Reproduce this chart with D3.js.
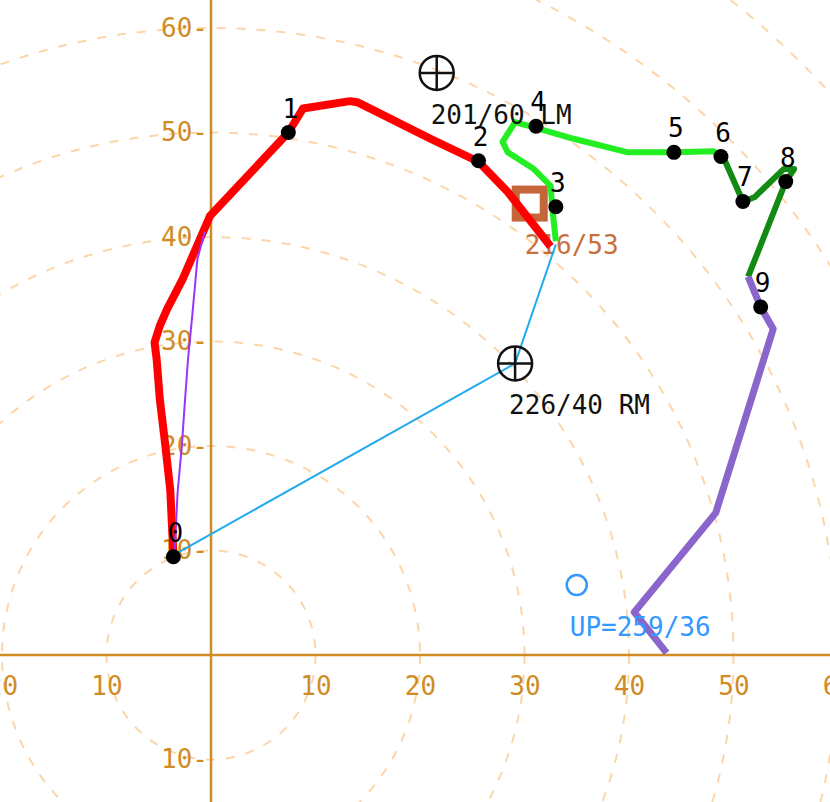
<!DOCTYPE html>
<html><head><meta charset="utf-8">
<script src="https://cdn.jsdelivr.net/npm/d3@7"></script>
<style>
html,body{margin:0;padding:0;background:#fff;}
svg{display:block;}
text{font-family:"DejaVu Sans Mono",monospace;font-size:26px;}
</style></head><body>
<svg id="c" width="830" height="802"></svg>
<script>
// ---- data (u, v components in knots) ----
const xTicks = [-20, -10, 10, 20, 30, 40, 50, 60];
const yTicks = [-10, 10, 20, 30, 40, 50, 60];
const ringRadii = [10, 20, 30, 40, 50, 60, 70, 80, 90];

const redSeg = [[-3.6,9.6],[-3.7,11.7],[-3.9,15.8],[-4.4,20.3],[-4.9,24.5],[-5.2,28.3],[-5.4,29.9],[-4.9,31.5],[-4.2,33.1],[-2.7,36.0],[-0.1,42.0],[7.4,50.0],[8.8,52.3],[13.3,53.0],[14.0,52.9],[21.0,49.4],[25.6,47.2],[28.4,44.3],[32.5,39.1]];
const greenSeg = [[33.0,39.6],[32.7,42.4],[32.5,44.9],[30.9,46.5],[28.4,48.1],[27.9,49.1],[29.1,51.0],[30.9,50.5],[34.7,49.4],[39.9,48.1],[44.3,48.1],[48.1,48.2],[49.0,47.7]];
const darkGreenSeg = [[49.0,47.7],[50.9,43.4],[52.0,43.8],[54.8,46.5],[55.8,46.5],[55.0,45.3],[51.4,36.2]];
const purpleSeg = [[51.4,36.2],[52.6,33.3],[53.8,31.2],[48.3,13.6],[40.5,4.1],[43.6,0.2]];
const thinPurpleSeg = [[-3.5,9.4],[-3.2,15.5],[-2.8,19.9],[-2.5,24.2],[-2.2,28.3],[-1.8,32.4],[-1.3,37.9],[-0.6,40.5]];
const blueSeg = [[-3.5,9.6],[29.1,27.9],[33.0,39.3]];

const heightLabels = ["0","1","2","3","4","5","6","7","8","9"];
const heightDots = [[-3.6,9.4],[7.4,50.0],[25.6,47.3],[33.0,42.9],[31.1,50.6],[44.3,48.1],[48.8,47.7],[50.9,43.4],[55.0,45.3],[52.6,33.3]];

const leftMover = {uv:[21.6,55.7], text:"201/60 LM"};
const rightMover = {uv:[29.1,27.9], text:"226/40 RM"};
const meanWind = {uv:[30.5,43.2], text:"216/53"};
const upshear = {uv:[35.0,6.7], text:"UP=259/36"};

// ---- scales ----
const W = 830, H = 802;
const k = 10.45;
const x = d3.scaleLinear().domain([-20, 60]).range([211 - 20*k, 211 + 60*k]);
const y = d3.scaleLinear().domain([0, 60]).range([655, 655 - 60*k]);

const svg = d3.select("#c");
const axisCol = "#d08c24";

// range rings
svg.append("g").selectAll("circle").data(ringRadii).join("circle")
  .attr("cx", x(0)).attr("cy", y(0))
  .attr("r", d => x(d) - x(0))
  .attr("fill", "none").attr("stroke", "#fcd6aa")
  .attr("stroke-width", 2).attr("stroke-dasharray", "9 11");

// axes lines
svg.append("line").attr("x1", 0).attr("x2", W).attr("y1", y(0)).attr("y2", y(0))
  .attr("stroke", axisCol).attr("stroke-width", 2.5);
svg.append("line").attr("x1", x(0)).attr("x2", x(0)).attr("y1", 0).attr("y2", H)
  .attr("stroke", axisCol).attr("stroke-width", 2.5);

// tick labels via d3 axes
const gx = svg.append("g").attr("transform", `translate(0,${y(0)})`)
  .call(d3.axisBottom(x).tickValues(xTicks).tickFormat(d => Math.abs(d)).tickSize(0).tickPadding(22));
gx.select(".domain").remove();
gx.selectAll("text").attr("fill", axisCol).style("font-size","26px").style("font-family",'"DejaVu Sans Mono",monospace');

const gy = svg.append("g").attr("transform", `translate(${x(0) - 3},0)`)
  .call(d3.axisLeft(y).tickValues(yTicks).tickFormat(d => Math.abs(d) + "-").tickSize(0).tickPadding(0));
gy.select(".domain").remove();
gy.selectAll("text").attr("fill", axisCol).style("font-size","26px").style("font-family",'"DejaVu Sans Mono",monospace');

// mean wind square (below lines)
svg.append("rect")
  .attr("x", x(meanWind.uv[0]) - 14).attr("y", y(meanWind.uv[1]) - 14)
  .attr("width", 28).attr("height", 28)
  .attr("fill", "none").attr("stroke", "#c4653a").attr("stroke-width", 8);
svg.append("text").attr("x", x(meanWind.uv[0]) - 5).attr("y", y(meanWind.uv[1]) + 50)
  .attr("fill", "#c8703c").text(meanWind.text);

// hodograph lines
const line = d3.line().x(d => x(d[0])).y(d => y(d[1]));
function seg(data, color, w) {
  svg.append("path").datum(data).attr("d", line)
    .attr("fill", "none").attr("stroke", color).attr("stroke-width", w)
    .attr("stroke-linejoin", "round").attr("stroke-linecap", "butt");
}
seg(redSeg, "#ff0000", 8);
seg(greenSeg, "#22ee22", 6);
seg(darkGreenSeg, "#138a13", 6);
seg(purpleSeg, "#8a66cc", 7);
seg(thinPurpleSeg, "#9933ff", 2);
seg(blueSeg, "#22aaee", 2);

// storm motion markers
function mover(m) {
  const cx = x(m.uv[0]), cy = y(m.uv[1]), r = 17;
  const g = svg.append("g").attr("stroke", "#111").attr("stroke-width", 2.5).attr("fill", "none");
  g.append("circle").attr("cx", cx).attr("cy", cy).attr("r", r);
  g.append("line").attr("x1", cx - r).attr("x2", cx + r).attr("y1", cy).attr("y2", cy);
  g.append("line").attr("x1", cx).attr("x2", cx).attr("y1", cy - r).attr("y2", cy + r);
  svg.append("text").attr("x", cx - 6).attr("y", cy + 51).attr("fill", "#111").text(m.text);
}
mover(leftMover);
mover(rightMover);

// upshear circle
svg.append("circle").attr("cx", x(upshear.uv[0])).attr("cy", y(upshear.uv[1])).attr("r", 10)
  .attr("fill", "none").attr("stroke", "#3399ff").attr("stroke-width", 2.5);
svg.append("text").attr("x", x(upshear.uv[0]) - 7).attr("y", y(upshear.uv[1]) + 51)
  .attr("fill", "#3399ff").text(upshear.text);

// height dots and labels
svg.append("g").selectAll("circle").data(heightDots).join("circle")
  .attr("cx", d => x(d[0])).attr("cy", d => y(d[1])).attr("r", 7.5).attr("fill", "#000");
svg.append("g").selectAll("text").data(heightDots).join("text")
  .attr("x", d => x(d[0]) + 2).attr("y", d => y(d[1]) - 15)
  .attr("text-anchor", "middle").attr("fill", "#000")
  .text((d, i) => heightLabels[i]);
</script>
</body></html>
